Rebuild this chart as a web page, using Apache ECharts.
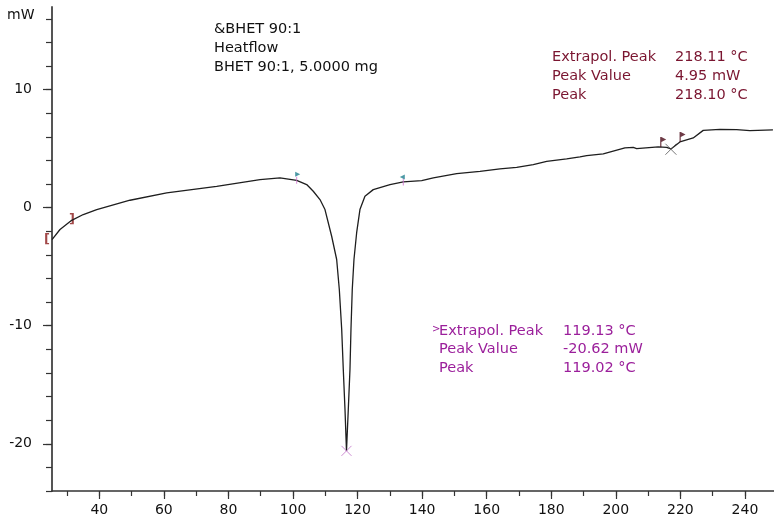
<!DOCTYPE html>
<html>
<head>
<meta charset="utf-8">
<script src="https://cdn.jsdelivr.net/npm/echarts@6/dist/echarts.min.js"></script>
<style>html,body{margin:0;padding:0;background:#fff}#c{width:774px;height:521px}</style>
</head>
<body>
<div id="c"></div>
<script>
// ---- data ----
const temps = [25.35, 27.83, 31.45, 35.04, 39.2, 49.51, 60.88, 76.36, 89.78, 95.97, 101.14, 104.24, 106.28, 108.36, 109.91, 111.98, 113.53, 114.35, 115.09, 115.58, 116.11, 116.57, 117.13, 117.65, 117.96, 118.36, 118.89, 119.72, 120.74, 122.29, 124.86, 130.05, 134.17, 139.87, 143.46, 150.7, 157.92, 164.11, 169.29, 174.43, 178.58, 184.77, 188.89, 190.97, 196.11, 202.82, 205.4, 206.45, 213.14, 215.74, 217.07, 219.86, 223.98, 227.08, 232.25, 237.42, 241.54, 248.67];
const heatflow = [-2.70, -1.85, -1.07, -0.58, -0.16, 0.63, 1.25, 1.81, 2.38, 2.52, 2.32, 1.96, 1.39, 0.69, -0.16, -2.42, -4.39, -6.93, -10.32, -13.71, -17.09, -20.6, -17.09, -13.71, -10.32, -6.93, -4.39, -2.12, -0.16, 0.97, 1.53, 1.96, 2.18, 2.29, 2.52, 2.89, 3.08, 3.29, 3.42, 3.65, 3.93, 4.13, 4.30, 4.41, 4.56, 5.06, 5.11, 5.01, 5.15, 5.11, 4.98, 5.57, 5.91, 6.55, 6.64, 6.61, 6.53, 6.59];
const xMajorTicks = [40, 60, 80, 100, 120, 140, 160, 180, 200, 220, 240];
const xMinorTicks = [30, 40, 50, 60, 70, 80, 90, 100, 110, 120, 130, 140, 150, 160, 170, 180, 190, 200, 210, 220, 230, 240];
const yMajorTicks = [-20, -10, 0, 10];
const yMinorTicks = [-24, -22, -20, -18, -16, -14, -12, -10, -8, -6, -4, -2, 0, 2, 4, 6, 8, 10, 12, 14, 16];
const bracketPoints = [[23.8, -2.70, '['], [31.54, -1.0, ']']];
const tealFlagRight = [[101.14, 2.32]];
const tealFlagLeft = [[134.17, 2.18]];
const darkFlags = [[213.9, 5.13], [219.9, 5.57]];
const peakMarkLow = [[116.57, -20.6]];
const peakMarkHigh = [[217.07, 4.95]];
const titleLines = ['&BHET 90:1', 'Heatflow', 'BHET 90:1, 5.0000 mg'];
const peak2Labels = ['Extrapol. Peak', 'Peak Value', 'Peak'];
const peak2Values = ['218.11 °C', '4.95 mW', '218.10 °C'];
const peak1Labels = ['Extrapol. Peak', 'Peak Value', 'Peak'];
const peak1Values = ['119.13 °C', '-20.62 mW', '119.02 °C'];

const FONT = 'DejaVu Sans, Verdana, sans-serif';
const chart = echarts.init(document.getElementById('c'), null, {renderer: 'canvas'});

const xMin = 25.35, xMax = 249, yMin = -24, yMax = 17;
const curve = temps.map((t, i) => [t, heatflow[i]]);

function textBlock(lines, x, y0, dy, color) {
  return lines.map((s, i) => ({
    type: 'text', left: x, top: y0 + i * dy - 8,
    style: {text: s, fill: color, font: '14.5px ' + FONT}
  }));
}
const darkRed = '#7a1530';
const purple = '#9b1f9b';
const graphics = [].concat(
  [{type: 'text', left: 7, top: 8, style: {text: 'mW', fill: '#111', font: '14px ' + FONT}}],
  textBlock(titleLines, 214, 30, 19, '#111'),
  textBlock(peak2Labels, 552, 58, 18.7, darkRed),
  textBlock(peak2Values, 675, 58, 18.7, darkRed),
  [{type: 'text', left: 432, top: 324, style: {text: '>', fill: purple, font: '10px ' + FONT}}],
  textBlock(peak1Labels, 439, 331.5, 18.7, purple),
  textBlock(peak1Values, 563, 331.5, 18.7, purple)
);

const X_PATH = 'path://M0,0L10,10M10,0L0,10';
const FLAG_R = 'path://M0,0L1.2,0L1.2,10L0,10Z M1.2,0L6,2.5L1.2,5Z';

chart.setOption({
  animation: false,
  backgroundColor: '#fff',
  grid: {left: 52, top: 7, right: 0, bottom: 30, containLabel: false},
  xAxis: [
    {type: 'value', min: xMin, max: xMax, position: 'bottom',
     axisLine: {show: true, onZero: false, lineStyle: {color: '#333', width: 1.5}},
     axisTick: {show: true, customValues: xMinorTicks, length: 5, lineStyle: {color: '#333', width: 1.2}},
     axisLabel: {show: false}, splitLine: {show: false}},
    {type: 'value', min: xMin, max: xMax, position: 'bottom',
     axisLine: {show: false, onZero: false},
     axisTick: {show: true, customValues: xMajorTicks, length: 8, lineStyle: {color: '#333', width: 1.2}},
     axisLabel: {show: true, customValues: xMajorTicks, fontSize: 14, fontFamily: FONT, color: '#111', margin: 12},
     splitLine: {show: false}}
  ],
  yAxis: [
    {type: 'value', min: yMin, max: yMax, position: 'left',
     axisLine: {show: true, onZero: false, lineStyle: {color: '#555', width: 2}},
     axisTick: {show: true, customValues: yMinorTicks, length: 6, lineStyle: {color: '#333', width: 1.2}},
     axisLabel: {show: false}, splitLine: {show: false}},
    {type: 'value', min: yMin, max: yMax, position: 'left',
     axisLine: {show: false, onZero: false},
     axisTick: {show: true, customValues: yMajorTicks, length: 9, lineStyle: {color: '#333', width: 1.2}},
     axisLabel: {show: true, customValues: yMajorTicks, fontSize: 14, fontFamily: FONT, color: '#111', margin: 20},
     splitLine: {show: false}}
  ],
  series: [
    {type: 'line', data: curve, symbol: 'none', smooth: false, z: 3,
     lineStyle: {color: '#1e1e1e', width: 1.3}},
    {type: 'scatter', data: bracketPoints.map(p => ({value: [p[0], p[1]], label: {formatter: p[2]}})),
     symbolSize: 1, clip: false, itemStyle: {color: 'rgba(0,0,0,0)'},
     label: {show: true, position: 'inside', color: '#8b1a1a', fontSize: 13, fontWeight: 'bold', fontFamily: FONT}},
    {type: 'scatter', data: tealFlagRight.concat(tealFlagLeft), symbol: 'rect', symbolSize: [1, 7],
     itemStyle: {color: '#d070d0'}, z: 4},
    {type: 'scatter', data: tealFlagRight, symbol: 'triangle', symbolRotate: -90, symbolSize: [5, 5],
     symbolOffset: [1, -6], itemStyle: {color: '#1f7f8f'}, z: 5},
    {type: 'scatter', data: tealFlagLeft, symbol: 'triangle', symbolRotate: 90, symbolSize: [5, 5],
     symbolOffset: [-1, -5], itemStyle: {color: '#1f7f8f'}, z: 5},
    {type: 'scatter', data: darkFlags, symbol: FLAG_R, symbolSize: [6, 10], symbolKeepAspect: false,
     symbolOffset: [2.5, -5], itemStyle: {color: '#4a0a18'}, z: 5},
    {type: 'scatter', data: peakMarkLow, symbol: X_PATH, symbolSize: 10,
     itemStyle: {color: 'none', borderColor: '#c070c8', borderWidth: 1}, z: 6},
    {type: 'scatter', data: peakMarkHigh, symbol: X_PATH, symbolSize: 11,
     itemStyle: {color: 'none', borderColor: '#555', borderWidth: 1}, z: 6}
  ],
  graphic: graphics
});
</script>
</body>
</html>
